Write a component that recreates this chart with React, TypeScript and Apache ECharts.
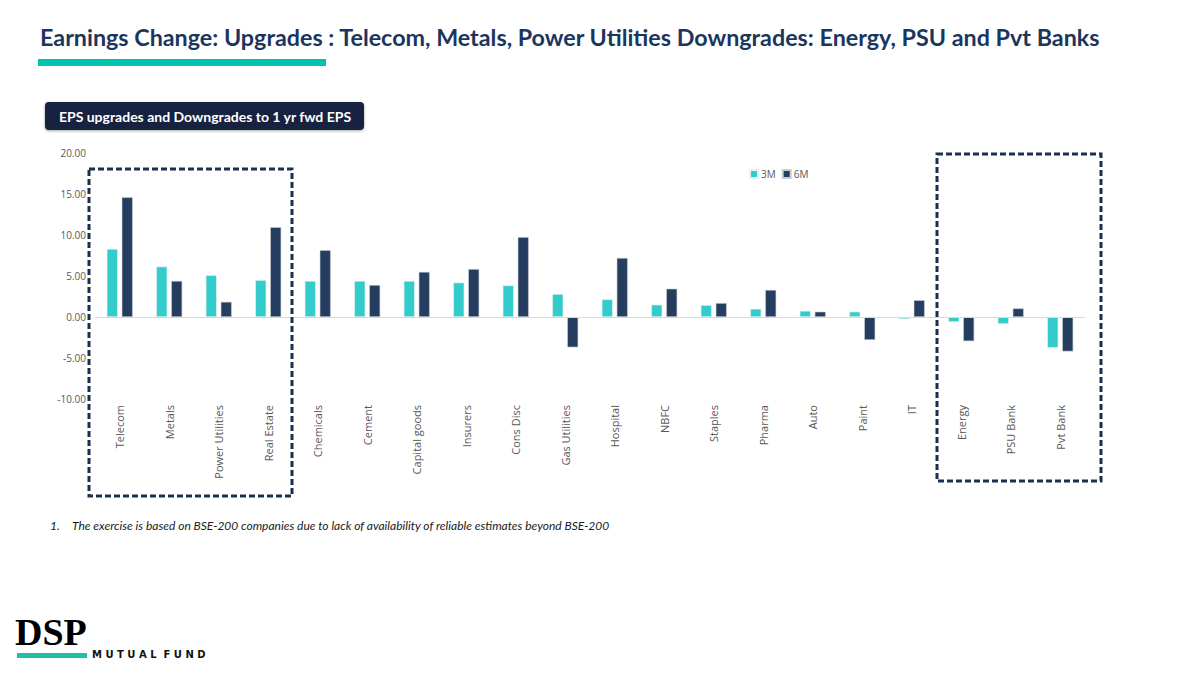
import React, { useEffect, useRef } from "react";
import * as echarts from "echarts";

const categories = [
  "Telecom", "Metals", "Power Utilities", "Real Estate", "Chemicals", "Cement",
  "Capital goods", "Insurers", "Cons Disc", "Gas Utilities", "Hospital", "NBFC",
  "Staples", "Pharma", "Auto", "Paint", "IT", "Energy", "PSU Bank", "Pvt Bank",
];
const series3M = [8.3, 6.15, 5.1, 4.5, 4.4, 4.4, 4.4, 4.2, 3.85, 2.8, 2.15, 1.5, 1.45, 1.0, 0.75, 0.65, -0.25, -0.6, -0.85, -3.75];
const series6M = [14.6, 4.4, 1.85, 10.95, 8.15, 3.9, 5.5, 5.85, 9.75, -3.7, 7.2, 3.45, 1.7, 3.3, 0.65, -2.8, 2.05, -2.95, 1.05, -4.2];
const yTicks = { min: -10, max: 20, interval: 5 };

const TITLE = "Earnings Change: Upgrades : Telecom, Metals, Power Utilities Downgrades: Energy, PSU and Pvt Banks";
const SUBTITLE = "EPS upgrades and Downgrades to 1 yr fwd EPS";
const FOOTNOTE = "The exercise is based on BSE-200 companies due to lack of availability of reliable estimates beyond BSE-200";

export default function App() {
  const ref = useRef<HTMLDivElement>(null);
  useEffect(() => {
    if (!ref.current) return;
    const chart = echarts.init(ref.current, undefined, { renderer: "svg" });
    const navy = "#1B2F4E";
    chart.setOption({
      animation: false,
      backgroundColor: "#ffffff",
      textStyle: { fontFamily: "Open Sans" },
      grid: { left: 95, right: 115, top: 153, bottom: 275, containLabel: false },
      legend: {
        data: ["3M", "6M"],
        left: 744,
        top: 164,
        itemWidth: 8,
        itemHeight: 8,
        itemGap: 6,
        icon: "rect",
        textStyle: { color: "#595959", fontSize: 10, padding: [0, 0, 0, -2] },
      },
      xAxis: {
        type: "category",
        data: categories,
        position: "bottom",
        axisLine: { show: false, onZero: false },
        axisTick: { show: false },
        axisLabel: { rotate: 90, color: "#595959", fontSize: 11, margin: 6, interval: 0 },
      },
      yAxis: {
        type: "value",
        min: yTicks.min,
        max: yTicks.max,
        interval: yTicks.interval,
        axisLine: { show: false },
        axisTick: { show: false },
        splitLine: { show: false },
        axisLabel: {
          color: "#595959",
          fontSize: 10,
          margin: 9,
          formatter: (v: number) => v.toFixed(2),
        },
      },
      series: [
        {
          name: "3M",
          type: "bar",
          data: series3M,
          barWidth: 11,
          barGap: "36%",
          itemStyle: { color: "#33CCCC", borderColor: "#e8f0f0", borderWidth: 0.6 },
          markLine: {
            silent: true,
            symbol: "none",
            label: { show: false },
            lineStyle: { color: "#d9d9d9", type: "solid", width: 1 },
            data: [{ yAxis: 0 }],
          },
          z: 2,
        },
        {
          name: "6M",
          type: "bar",
          data: series6M,
          barWidth: 11,
          itemStyle: { color: "#253D5E", borderColor: "#c8ccd4", borderWidth: 0.6 },
          z: 2,
        },
      ],
      graphic: [
        {
          type: "text",
          x: 40,
          y: 37,
          style: {
            text: TITLE,
            fill: "#1B365D",
            font: "bold 23.3px Lato",
            verticalAlign: "middle",
          },
        },
        {
          type: "rect",
          shape: { x: 38, y: 59, width: 288, height: 7 },
          style: { fill: "#00C4B0" },
        },
        {
          type: "rect",
          shape: { x: 45, y: 102, width: 319, height: 28, r: 4 },
          style: { fill: "#12233F", shadowBlur: 3, shadowColor: "rgba(0,0,0,0.35)", shadowOffsetY: 1 },
        },
        {
          type: "text",
          x: 205,
          y: 116,
          style: {
            text: SUBTITLE,
            fill: "#ffffff",
            font: "bold 14px Lato",
            align: "center",
            verticalAlign: "middle",
          },
        },
        {
          type: "rect",
          z: 10,
          shape: { x: 89, y: 169, width: 203, height: 327 },
          style: { fill: "none", stroke: navy, lineWidth: 3, lineDash: [6, 3] },
        },
        {
          type: "rect",
          z: 10,
          shape: { x: 937, y: 154, width: 164, height: 327 },
          style: { fill: "none", stroke: navy, lineWidth: 3, lineDash: [6, 3] },
        },
        {
          type: "text",
          x: 50,
          y: 525,
          style: { text: "1.", fill: "#1a1a1a", font: "italic 12px Lato", verticalAlign: "middle" },
        },
        {
          type: "text",
          x: 72,
          y: 525,
          style: { text: FOOTNOTE, fill: "#1a1a1a", font: "italic 12px Lato", verticalAlign: "middle" },
        },
        {
          type: "text",
          x: 15,
          y: 613,
          style: { text: "DSP", fill: "#000000", font: "bold 38px 'Liberation Serif'" },
        },
        {
          type: "rect",
          shape: { x: 17, y: 653, width: 70, height: 5 },
          style: { fill: "#1FBFA8" },
        },
        {
          type: "text",
          x: 92,
          y: 654,
          style: { text: "M U T U A L  F U N D", fill: "#111111", font: "bold 10px 'DejaVu Sans'", verticalAlign: "middle" },
        },
      ],
    });
    return () => chart.dispose();
  }, []);
  return (
    <div
      ref={ref}
      style={{ position: "absolute", left: 0, top: 0, width: 1200, height: 674 }}
    />
  );
}
